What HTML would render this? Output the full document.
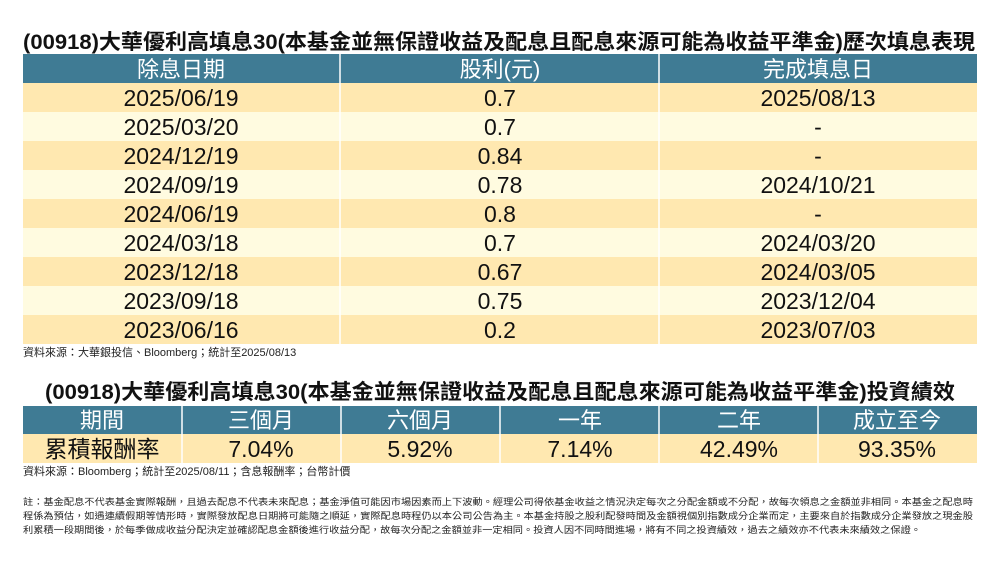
<!DOCTYPE html>
<html><head><meta charset="utf-8"><style>
body{margin:0;background:#fff}
svg{display:block}
text{font-family:"Liberation Sans","Noto Sans CJK TC",sans-serif}
.h{fill:#fff;font-size:22px;text-anchor:middle}
.d{fill:#111;font-size:23px;text-anchor:middle}
.t{fill:#111;font-size:21px;font-weight:bold}
.s{fill:#222;font-size:11px}
</style></head><body>
<svg width="1000" height="563" viewBox="0 0 1000 563">
<rect width="1000" height="563" fill="#fff"/>
<text class="t" x="23" y="49" textLength="952" lengthAdjust="spacingAndGlyphs">(00918)大華優利高填息30(本基金並無保證收益及配息且配息來源可能為收益平準金)歷次填息表現</text>
<rect x="23" y="54" width="954" height="29" fill="#3f7b94"/>
<g fill="#ffe8b0">
<rect x="23" y="83" width="954" height="29"/>
<rect x="23" y="141" width="954" height="29"/>
<rect x="23" y="199" width="954" height="29"/>
<rect x="23" y="257" width="954" height="29"/>
<rect x="23" y="315" width="954" height="29"/>
</g>
<g fill="#fffbe0">
<rect x="23" y="112" width="954" height="29"/>
<rect x="23" y="170" width="954" height="29"/>
<rect x="23" y="228" width="954" height="29"/>
<rect x="23" y="286" width="954" height="29"/>
</g>
<g stroke="#fff" stroke-width="1.5">
<line x1="340" y1="54" x2="340" y2="344"/><line x1="659" y1="54" x2="659" y2="344"/>
</g>
<text class="h" x="181" y="77">除息日期</text><text class="h" x="500" y="77">股利(元)</text><text class="h" x="818" y="77">完成填息日</text>
<g>
<text class="d" x="181" y="106">2025/06/19</text><text class="d" x="500" y="106">0.7</text><text class="d" x="818" y="106">2025/08/13</text>
<text class="d" x="181" y="135">2025/03/20</text><text class="d" x="500" y="135">0.7</text><text class="d" x="818" y="135">-</text>
<text class="d" x="181" y="164">2024/12/19</text><text class="d" x="500" y="164">0.84</text><text class="d" x="818" y="164">-</text>
<text class="d" x="181" y="193">2024/09/19</text><text class="d" x="500" y="193">0.78</text><text class="d" x="818" y="193">2024/10/21</text>
<text class="d" x="181" y="222">2024/06/19</text><text class="d" x="500" y="222">0.8</text><text class="d" x="818" y="222">-</text>
<text class="d" x="181" y="251">2024/03/18</text><text class="d" x="500" y="251">0.7</text><text class="d" x="818" y="251">2024/03/20</text>
<text class="d" x="181" y="280">2023/12/18</text><text class="d" x="500" y="280">0.67</text><text class="d" x="818" y="280">2024/03/05</text>
<text class="d" x="181" y="309">2023/09/18</text><text class="d" x="500" y="309">0.75</text><text class="d" x="818" y="309">2023/12/04</text>
<text class="d" x="181" y="338">2023/06/16</text><text class="d" x="500" y="338">0.2</text><text class="d" x="818" y="338">2023/07/03</text>
</g>
<text class="s" x="23" y="356">資料來源：大華銀投信、Bloomberg；統計至2025/08/13</text>

<text class="t" x="45" y="399" textLength="910" lengthAdjust="spacingAndGlyphs">(00918)大華優利高填息30(本基金並無保證收益及配息且配息來源可能為收益平準金)投資績效</text>
<rect x="23" y="406" width="954" height="28" fill="#3f7b94"/>
<rect x="23" y="434" width="954" height="29" fill="#ffe8b0"/>
<g stroke="#fff" stroke-width="1.5">
<line x1="182" y1="406" x2="182" y2="463"/><line x1="341" y1="406" x2="341" y2="463"/><line x1="500" y1="406" x2="500" y2="463"/><line x1="659" y1="406" x2="659" y2="463"/><line x1="818" y1="406" x2="818" y2="463"/>
</g>
<text class="h" x="102" y="428">期間</text><text class="h" x="261" y="428">三個月</text><text class="h" x="420" y="428">六個月</text><text class="h" x="580" y="428">一年</text><text class="h" x="739" y="428">二年</text><text class="h" x="897" y="428">成立至今</text>
<text class="d" x="102" y="457">累積報酬率</text><text class="d" x="261" y="457">7.04%</text><text class="d" x="420" y="457">5.92%</text><text class="d" x="580" y="457">7.14%</text><text class="d" x="739" y="457">42.49%</text><text class="d" x="897" y="457">93.35%</text>
<text class="s" x="23" y="475">資料來源：Bloomberg；統計至2025/08/11；含息報酬率；台幣計價</text>

<g class="s" style="font-size:9px">
<text x="23" y="505" textLength="950" lengthAdjust="spacingAndGlyphs">註：基金配息不代表基金實際報酬，且過去配息不代表未來配息；基金淨值可能因市場因素而上下波動。經理公司得依基金收益之情況決定每次之分配金額或不分配，故每次領息之金額並非相同。本基金之配息時</text>
<text x="23" y="519" textLength="950" lengthAdjust="spacingAndGlyphs">程係為預估，如遇連續假期等情形時，實際發放配息日期將可能隨之順延，實際配息時程仍以本公司公告為主。本基金持股之股利配發時間及金額視個別指數成分企業而定，主要來自於指數成分企業發放之現金股</text>
<text x="23" y="533" textLength="898" lengthAdjust="spacingAndGlyphs">利累積一段期間後，於每季做成收益分配決定並確認配息金額後進行收益分配，故每次分配之金額並非一定相同。投資人因不同時間進場，將有不同之投資績效，過去之績效亦不代表未來績效之保證。</text>
</g>
</svg>
</body></html>
